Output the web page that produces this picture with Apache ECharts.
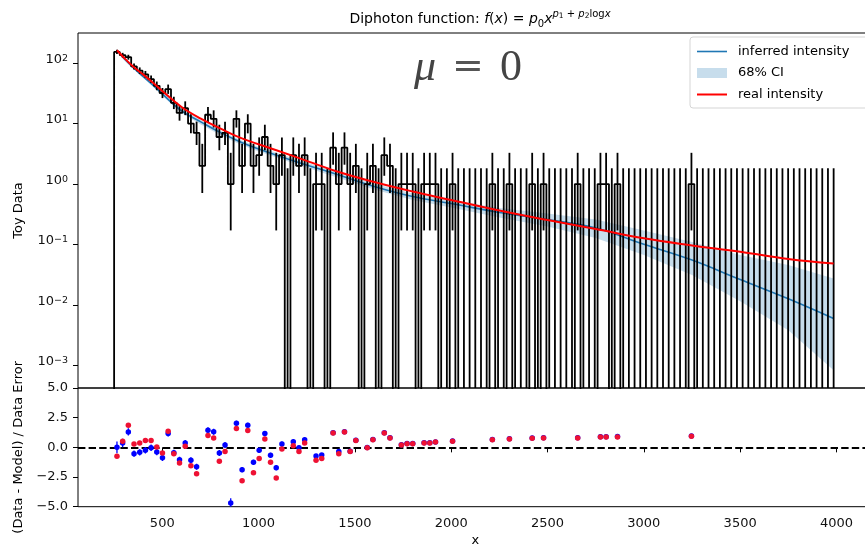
<!DOCTYPE html>
<html>
<head>
<meta charset="utf-8">
<title>Diphoton function</title>
<script src="https://cdn.jsdelivr.net/npm/echarts@6/dist/echarts.min.js"></script>
<style>
  html, body { margin: 0; padding: 0; background: #fff; }
  #chart { width: 865px; height: 549px; }
</style>
</head>
<body>
<div id="chart"></div>
<script>
// toy data histogram: equal bins between binLo and binHi
const binLo = 250;
const binHi = 4000;
const counts = [
  153, 135, 125, 88, 75, 65, 54, 42, 32, 37,
  22, 15, 18, 10, 7, 2, 14, 12, 6, 7,
  1, 12, 2, 10, 2, 3, 6, 2, 1, 3,
  0, 3, 2, 3, 0, 1, 1, 0, 4, 1,
  4, 1, 2, 0, 1, 2, 0, 3, 2, 0,
  1, 1, 1, 0, 1, 1, 1, 0, 0, 1,
  0, 0, 0, 0, 0, 0, 1, 0, 0, 1,
  0, 0, 0, 1, 0, 1, 0, 0, 0, 0,
  0, 1, 0, 0, 0, 1, 1, 0, 1, 0,
  0, 0, 0, 0, 0, 0, 0, 0, 0, 0,
  0, 1, 0, 0, 0, 0, 0, 0, 0, 0,
  0, 0, 0, 0, 0, 0, 0, 0, 0, 0,
  0, 0, 0, 0, 0, 0, 0
];

// model curves, read at these x
const modelX = [265, 300, 350, 400, 450, 500, 600, 700, 800, 900, 1000, 1200, 1400, 1600, 1800, 2000, 2250, 2500, 2750, 3000, 3250, 3500, 3750, 3985];
const inferred = [162.9, 120.1, 83.6, 60.4, 43.7, 31.0, 16.2, 10.67, 7.15, 5.07, 3.81, 2.32, 1.47, 0.913, 0.623, 0.477, 0.339, 0.259, 0.188, 0.101, 0.0554, 0.0264, 0.0127, 0.0060];
const ciLow = [156.7, 113.4, 78.9, 57.1, 41.3, 28.7, 15.0, 9.70, 6.50, 4.61, 3.47, 2.11, 1.31, 0.814, 0.545, 0.410, 0.280, 0.199, 0.128, 0.067, 0.0313, 0.0116, 0.00384, 0.00084];
const ciHigh = [169.2, 127.1, 88.5, 64.0, 46.3, 33.5, 17.5, 11.5, 7.72, 5.48, 4.11, 2.55, 1.617, 1.023, 0.699, 0.545, 0.402, 0.326, 0.259, 0.1705, 0.110, 0.067, 0.0458, 0.0276];
const real = [162.9, 123.8, 86.9, 65.0, 47.9, 34.5, 18.8, 12.05, 8.33, 5.91, 4.56, 2.76, 1.648, 1.083, 0.754, 0.545, 0.366, 0.2544, 0.1805, 0.1271, 0.0970, 0.0763, 0.0578, 0.0485];

// residual panel (bin index, value)
const resBins = [0, 1, 2, 3, 4, 5, 6, 7, 8, 9, 10, 11, 12, 13, 14, 16, 17, 18, 19, 20,
  21, 22, 23, 24, 25, 26, 27, 28, 29, 31, 32, 33, 35, 36, 38, 39, 40, 41, 42, 44,
  45, 47, 48, 50, 51, 52, 54, 55, 56, 59, 66, 69, 73, 75, 81, 85, 86, 88, 101];
const resReal = [-0.76, 0.51, 1.86, 0.28, 0.37, 0.57, 0.57, 0.03, -0.48, 1.35, -0.53, -1.32, 0.09, -1.54, -2.22, 0.99, 0.79, -1.18, -0.36, null,
  1.58, -2.81, 1.41, -2.14, -0.93, 0.71, -1.26, -2.58, -0.14, 0.14, -0.36, 0.37, -1.09, -0.93, 1.21, -0.53, 1.30, -0.34, 0.57, -0.03,
  0.65, 1.21, 0.79, 0.20, 0.31, 0.31, 0.37, 0.37, 0.45, 0.52, 0.65, 0.71, 0.76, 0.79, 0.79, 0.88, 0.88, 0.88, 0.93];
const resInferred = [0.00, 0.37, 1.30, -0.53, -0.42, -0.25, -0.03, -0.39, -0.87, 1.16, -0.45, -1.04, 0.37, -1.09, -1.63, 1.44, 1.32, -0.48, 0.20, -4.69,
  2.03, -1.88, 1.86, -1.26, -0.25, 1.16, -0.67, -1.71, 0.28, 0.48, -0.03, 0.65, -0.73, -0.64, 1.23, -0.34, 1.32, -0.32, 0.59, -0.01,
  0.66, 1.22, 0.80, 0.21, 0.32, 0.32, 0.38, 0.38, 0.46, 0.53, 0.67, 0.72, 0.79, 0.80, 0.81, 0.90, 0.90, 0.91, 0.96];
const resInferredErr = [0.50, 0.36, 0.30, 0.27, 0.27, 0.27, 0.27, 0.27, 0.27, 0.25, 0.25, 0.25, 0.25, 0.25, 0.25, 0.25, 0.25, 0.25, 0.25, 0.40,
  0.22, 0.22, 0.22, 0.22, 0.22, 0.22, 0.22, 0.22, 0.22, 0.18, 0.18, 0.18, 0.16, 0.16, 0.15, 0.15, 0.15, 0.14, 0.14, 0.13,
  0.13, 0.12, 0.12, 0.11, 0.11, 0.11, 0.10, 0.10, 0.10, 0.10, 0.09, 0.09, 0.08, 0.08, 0.08, 0.08, 0.08, 0.08, 0.08];

// tick labels
const xTicks = [500, 1000, 1500, 2000, 2500, 3000, 3500, 4000];
const logTicks = [0.001, 0.01, 0.1, 1, 10, 100];
const logMinorTicks = [0.0005, 0.0006, 0.0007, 0.0008, 0.0009,
  0.002, 0.003, 0.004, 0.005, 0.006, 0.007, 0.008, 0.009,
  0.02, 0.03, 0.04, 0.05, 0.06, 0.07, 0.08, 0.09,
  0.2, 0.3, 0.4, 0.5, 0.6, 0.7, 0.8, 0.9,
  2, 3, 4, 5, 6, 7, 8, 9,
  20, 30, 40, 50, 60, 70, 80, 90, 200, 300];
const resTicks = [-5, -2.5, 0, 2.5, 5];

const FONT = 'DejaVu Sans';
const xMin = 62.5, xMax = 4187.5;
const yMin = Math.pow(10, -3.37), yMax = Math.pow(10, 2.497);
const nBins = counts.length;
const binW = (binHi - binLo) / nBins;
const centers = counts.map((n, i) => binLo + (i + 0.5) * binW);

// 68% Poisson interval (Garwood, Wilson-Hilferty form) for the error bars
function poissonBand(n) {
  const lo = n === 0 ? 0 : n * Math.pow(1 - 1 / (9 * n) - 1 / (3 * Math.sqrt(n)), 3);
  const m = n + 1;
  const hi = m * Math.pow(1 - 1 / (9 * m) + 1 / (3 * Math.sqrt(m)), 3);
  return [lo, hi];
}

// stairs outline, empty bins drop below the axis
const floorVal = 1e-7;
const stairs = [[binLo, floorVal]];
counts.forEach((n, i) => {
  const v = n > 0 ? n : floorVal;
  stairs.push([binLo + i * binW, v], [binLo + (i + 1) * binW, v]);
});
stairs.push([binHi, floorVal]);

const histErr = counts.map((n, i) => {
  const b = poissonBand(n);
  return [centers[i], Math.max(b[0], yMin), b[1]];
});

const realPts = [], inferredPts = [], infErrPts = [];
resBins.forEach((b, i) => {
  if (resReal[i] !== null) realPts.push([centers[b], resReal[i]]);
  inferredPts.push([centers[b], resInferred[i]]);
  infErrPts.push([centers[b], resInferred[i] - resInferredErr[i], resInferred[i] + resInferredErr[i]]);
});

function vbar(color, width) {
  return function (params, api) {
    const p1 = api.coord([api.value(0), api.value(1)]);
    const p2 = api.coord([api.value(0), api.value(2)]);
    return {
      type: 'line',
      shape: { x1: p1[0], y1: p1[1], x2: p2[0], y2: p2[1] },
      style: { stroke: color, lineWidth: width }
    };
  };
}

function supLabel(v) {
  const e = Math.round(Math.log10(v));
  return '{b|10}{s|' + (e < 0 ? '\u2212' + (-e) : e) + '}';
}

const lineIconBlue = 'path://M0,0 L30,0 L30,1.6 L0,1.6 Z';
const lineIconRed = 'path://M0,0 L30,0 L30,2 L0,2 Z';

const chart = echarts.init(document.getElementById('chart'));
const option = {
  animation: false,
  backgroundColor: '#fff',
  title: {
    left: 475,
    top: 4,
    textAlign: 'center',
    text: '{n|Diphoton function: }{i|f}{n|(}{i|x}{n|) = }{i|p}{sub|0}{i|x}{supi|p}{supsub|1}{sup| + }{supi|p}{supsub|2}{sup|log}{supi|x}',
    textStyle: {
      fontFamily: FONT,
      fontWeight: 'normal',
      color: '#000',
      rich: {
        n: { fontFamily: FONT, fontSize: 14, color: '#000' },
        i: { fontFamily: FONT, fontSize: 14, fontStyle: 'italic', color: '#000' },
        sub: { fontFamily: FONT, fontSize: 10, color: '#000', padding: [9, 0, 0, 0] },
        sup: { fontFamily: FONT, fontSize: 10, color: '#000', padding: [0, 0, 11, 0] },
        supi: { fontFamily: FONT, fontSize: 10, fontStyle: 'italic', color: '#000', padding: [0, 0, 11, 0] },
        supsub: { fontFamily: FONT, fontSize: 7.5, color: '#000', padding: [0, 0, 6, 0] }
      }
    }
  },
  graphic: [{
    type: 'text',
    left: 414,
    top: 46,
    style: {
      text: '{m|\u03bc}{e|=}{z|0}',
      rich: {
        m: { fontFamily: 'Liberation Serif', fontStyle: 'italic', fontSize: 44, fill: '#444' },
        e: { fontFamily: 'DejaVu Serif', fontSize: 38, fill: '#555', padding: [0, 16, 0, 16] },
        z: { fontFamily: 'Liberation Serif', fontSize: 44, fill: '#444' }
      }
    }
  }],
  legend: {
    orient: 'vertical',
    left: 690,
    top: 37,
    padding: [8, 24, 7, 7],
    itemGap: 8.5,
    itemWidth: 30,
    itemHeight: 10,
    selectedMode: false,
    backgroundColor: 'rgba(255,255,255,0.8)',
    borderColor: '#d5d5d5',
    borderWidth: 1,
    borderRadius: 3,
    textStyle: { fontFamily: FONT, fontSize: 13, color: '#000', padding: [0, 0, 0, 6] },
    data: [
      { name: 'inferred intensity', icon: lineIconBlue },
      { name: '68% CI', icon: 'rect' },
      { name: 'real intensity', icon: lineIconRed }
    ]
  },
  grid: [
    { left: 78, top: 33, width: 794.6, height: 355, show: true, borderColor: '#000', borderWidth: 1, containLabel: false, outerBoundsMode: 'none' },
    { left: 78, top: 388, width: 794.6, height: 118.7, show: true, borderColor: '#000', borderWidth: 1, containLabel: false, outerBoundsMode: 'none' }
  ],
  xAxis: [
    { type: 'value', gridIndex: 0, min: xMin, max: xMax, show: false, splitLine: { show: false } },
    {
      type: 'value', gridIndex: 1, min: xMin, max: xMax,
      name: 'x', nameLocation: 'middle', nameGap: 27,
      nameTextStyle: { fontFamily: FONT, fontSize: 13, color: '#000' },
      axisLine: { show: false },
      axisTick: { show: true, length: 5, customValues: xTicks, lineStyle: { color: '#000' } },
      axisLabel: { customValues: xTicks, margin: 10, fontFamily: FONT, fontSize: 13, color: '#111', formatter: v => String(v) },
      splitLine: { show: false }
    }
  ],
  yAxis: [
    {
      type: 'log', logBase: 10, gridIndex: 0, min: yMin, max: yMax,
      name: 'Toy Data', nameLocation: 'middle', nameGap: 53,
      nameTextStyle: { fontFamily: FONT, fontSize: 13, color: '#000' },
      axisLine: { show: false },
      axisTick: { show: true, length: 5, customValues: logTicks, lineStyle: { color: '#000' } },
      axisLabel: {
        customValues: logTicks, margin: 10, formatter: supLabel,
        rich: {
          b: { fontFamily: FONT, fontSize: 13, color: '#111', lineHeight: 20, verticalAlign: 'top' },
          s: { fontFamily: FONT, fontSize: 9.5, color: '#111', lineHeight: 12, verticalAlign: 'top' }
        }
      },
      splitLine: { show: false }
    },
    {
      type: 'log', logBase: 10, gridIndex: 0, min: yMin, max: yMax,
      axisLine: { show: false },
      axisTick: { show: true, length: 2.8, customValues: logMinorTicks, lineStyle: { color: '#000' } },
      axisLabel: { show: false },
      splitLine: { show: false }
    },
    {
      type: 'value', gridIndex: 1, min: -5, max: 5, interval: 2.5,
      name: '(Data - Model) / Data Error', nameLocation: 'middle', nameGap: 45,
      nameTextStyle: { fontFamily: FONT, fontSize: 13, color: '#000' },
      axisLine: { show: false },
      axisTick: { show: true, length: 5, customValues: resTicks, lineStyle: { color: '#000' } },
      axisLabel: {
        customValues: resTicks, margin: 10, fontFamily: FONT, fontSize: 13, color: '#111',
        formatter: v => (v < 0 ? '\u2212' : '') + Math.abs(v).toFixed(1)
      },
      splitLine: { show: false }
    }
  ],
  series: [
    {
      name: '68% CI', type: 'custom', xAxisIndex: 0, yAxisIndex: 0,
      itemStyle: { color: 'rgba(31,119,180,0.25)' },
      data: modelX.map((x, i) => [x, ciLow[i], ciHigh[i]]),
      encode: { x: 0, y: [1, 2] },
      renderItem: function (params, api) {
        if (params.dataIndex !== 0) return null;
        const pts = [];
        modelX.forEach((x, i) => pts.push(api.coord([x, ciHigh[i]])));
        for (let i = modelX.length - 1; i >= 0; i--) pts.push(api.coord([modelX[i], ciLow[i]]));
        return { type: 'polygon', shape: { points: pts }, style: { fill: 'rgba(31,119,180,0.25)' } };
      },
      z: 1
    },
    {
      name: 'inferred intensity', type: 'line', xAxisIndex: 0, yAxisIndex: 0,
      data: modelX.map((x, i) => [x, inferred[i]]),
      symbol: 'none', smooth: 0.4,
      itemStyle: { color: '#1f77b4' },
      lineStyle: { color: '#1f77b4', width: 1.6 },
      z: 2
    },
    {
      name: 'data', type: 'line', xAxisIndex: 0, yAxisIndex: 0,
      data: stairs, symbol: 'none', clip: true,
      lineStyle: { color: '#000', width: 1.8 },
      z: 3
    },
    {
      name: 'data error', type: 'custom', xAxisIndex: 0, yAxisIndex: 0,
      data: histErr, encode: { x: 0, y: [1, 2] },
      renderItem: vbar('#000', 1.8), clip: true,
      z: 3
    },
    {
      name: 'real intensity', type: 'line', xAxisIndex: 0, yAxisIndex: 0,
      data: modelX.map((x, i) => [x, real[i]]),
      symbol: 'none', smooth: 0.4,
      itemStyle: { color: '#ff0000' },
      lineStyle: { color: '#ff0000', width: 2 },
      z: 4
    },
    {
      name: 'inferred residual error', type: 'custom', xAxisIndex: 1, yAxisIndex: 2,
      data: infErrPts, encode: { x: 0, y: [1, 2] },
      renderItem: vbar('#0000ff', 1.3), clip: true,
      z: 5
    },
    {
      name: 'inferred residual', type: 'scatter', xAxisIndex: 1, yAxisIndex: 2,
      data: inferredPts, symbolSize: 5.5,
      itemStyle: { color: '#0000ff', opacity: 1 },
      clip: true,
      z: 5
    },
    {
      name: 'real residual', type: 'scatter', xAxisIndex: 1, yAxisIndex: 2,
      data: realPts, symbolSize: 5.5,
      itemStyle: { color: '#ee1133', opacity: 1 },
      clip: true,
      markLine: {
        silent: true, symbol: 'none', label: { show: false },
        lineStyle: { color: '#000', type: [7.4, 3.2], width: 2 },
        data: [{ yAxis: 0 }]
      },
      z: 6
    }
  ]
};
chart.setOption(option);
</script>
</body>
</html>
